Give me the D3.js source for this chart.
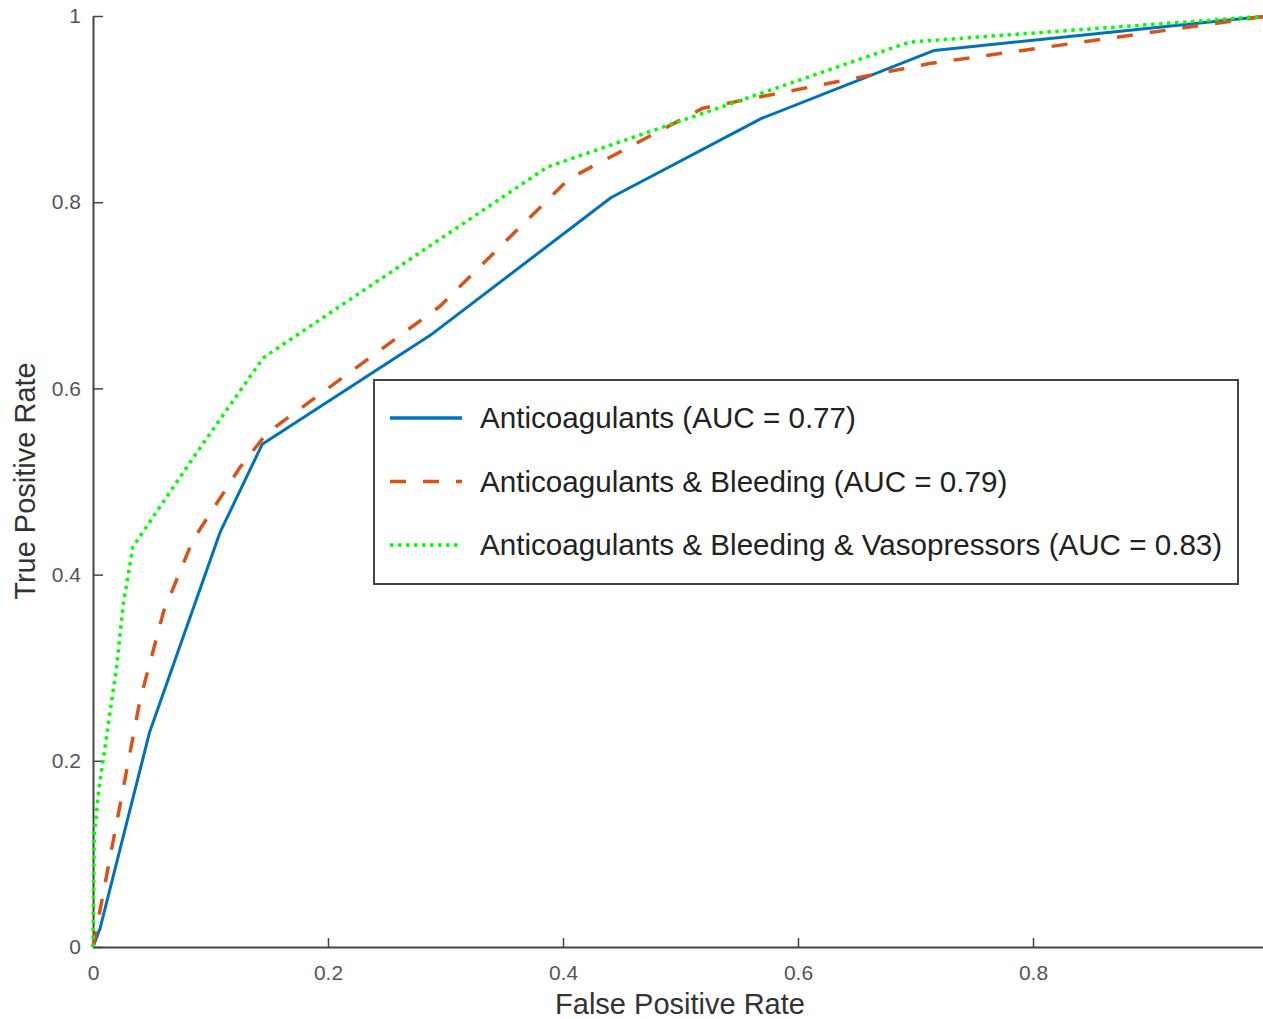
<!DOCTYPE html>
<html>
<head>
<meta charset="utf-8">
<script src="https://cdn.jsdelivr.net/npm/d3@7"></script>
<style>
  body { margin: 0; background: #fff; }
  svg { display: block; font-family: 'Liberation Sans', Arial, sans-serif; }
</style>
</head>
<body>
<svg id="roc" width="1263" height="1019"></svg>
<script>
// ROC curves
const fprA = [0, 0.006, 0.048, 0.108, 0.144, 0.287, 0.441, 0.569, 0.716, 1];
const tprA = [0, 0.02, 0.230, 0.445, 0.540, 0.657, 0.805, 0.890, 0.963, 1];

const fprB = [0, 0.04, 0.06, 0.085, 0.125, 0.148, 0.295, 0.405, 0.519, 0.712, 1];
const tprB = [0, 0.265, 0.36, 0.437, 0.515, 0.552, 0.688, 0.825, 0.901, 0.949, 1];

const fprC = [0, 0.001, 0.005, 0.012, 0.02, 0.026, 0.034, 0.085, 0.145, 0.387, 0.695, 1];
const tprC = [0, 0.12, 0.17, 0.23, 0.30, 0.37, 0.43, 0.525, 0.633, 0.838, 0.972, 1];

const seriesNames = [
  'Anticoagulants (AUC = 0.77)',
  'Anticoagulants & Bleeding (AUC = 0.79)',
  'Anticoagulants & Bleeding & Vasopressors (AUC = 0.83)'
];
const tickValues = [0, 0.2, 0.4, 0.6, 0.8, 1];

const colours = ['#0072BD', '#D95319', '#00FF00'];
const dashes = [null, '16,17', '3.5,4.5'];

const series = [[fprA, tprA], [fprB, tprB], [fprC, tprC]].map(([xs, ys], i) => ({
  name: seriesNames[i],
  colour: colours[i],
  dash: dashes[i],
  points: xs.map((x, j) => [x, ys[j]])
}));

const svg = d3.select('svg#roc');

const x = d3.scaleLinear().domain([0, 1]).range([93, 1268]);
const y = d3.scaleLinear().domain([0, 1]).range([947, 16]);

const fmt = d3.format('~g');

// axes, ticks pointing inward
const xAxis = svg.append('g')
  .attr('transform', `translate(0,${y(0)})`)
  .call(d3.axisBottom(x).tickValues(tickValues).tickFormat(fmt)
    .tickSizeInner(-9).tickSizeOuter(0).tickPadding(18));

const yAxis = svg.append('g')
  .attr('transform', `translate(${x(0)},0)`)
  .call(d3.axisLeft(y).tickValues(tickValues).tickFormat(fmt)
    .tickSizeInner(-10).tickSizeOuter(0).tickPadding(12));

[xAxis, yAxis].forEach(g => {
  g.select('.domain').attr('stroke', '#444').attr('stroke-width', 2);
  g.selectAll('.tick line').attr('stroke', '#444').attr('stroke-width', 1.5);
  g.selectAll('.tick text')
    .attr('fill', '#555')
    .style('font-size', '21px')
    .style('font-family', "'Liberation Sans', Arial, sans-serif");
});

// curves
const line = d3.line().x(d => x(d[0])).y(d => y(d[1]));

svg.append('g')
  .selectAll('path')
  .data(series)
  .join('path')
    .attr('d', d => line(d.points))
    .attr('fill', 'none')
    .attr('stroke', d => d.colour)
    .attr('stroke-width', d => d.dash ? 3.5 : 3)
    .attr('stroke-dasharray', d => d.dash)
    .attr('stroke-linejoin', 'round');

// axis titles
svg.append('text')
  .attr('x', 680)
  .attr('y', 1014)
  .attr('text-anchor', 'middle')
  .attr('fill', '#333')
  .style('font-size', '29px')
  .text('False Positive Rate');

svg.append('text')
  .attr('transform', 'translate(35,481) rotate(-90)')
  .attr('text-anchor', 'middle')
  .attr('fill', '#333')
  .style('font-size', '29px')
  .text('True Positive Rate');

// legend
const legend = svg.append('g').attr('transform', 'translate(374,380)');

legend.append('rect')
  .attr('width', 864)
  .attr('height', 204)
  .attr('fill', '#fff')
  .attr('stroke', '#444')
  .attr('stroke-width', 2);

const items = legend.selectAll('g.item')
  .data(series)
  .join('g')
    .attr('class', 'item')
    .attr('transform', (d, i) => `translate(0,${38 + i * 63.5})`);

items.append('line')
  .attr('x1', 16)
  .attr('x2', 88)
  .attr('stroke', d => d.colour)
  .attr('stroke-width', 3.5)
  .attr('stroke-dasharray', d => d.dash);

items.append('text')
  .attr('x', 106)
  .attr('y', 10)
  .attr('fill', '#222')
  .style('font-size', '29.6px')
  .text(d => d.name);
</script>
</body>
</html>
